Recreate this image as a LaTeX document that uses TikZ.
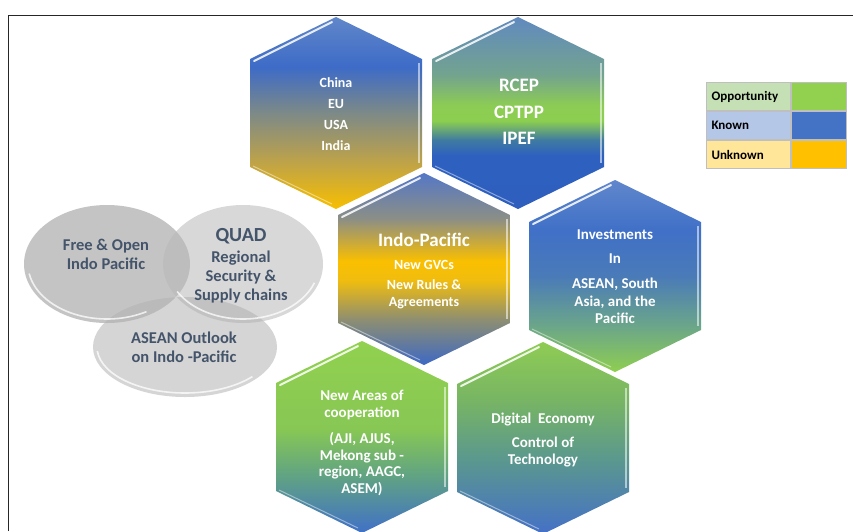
\documentclass[tikz,border=0pt]{standalone}
\usepackage{fontspec}
\setmainfont{Carlito}
\usetikzlibrary{positioning}

\definecolor{opgreen}{HTML}{92D050}
\definecolor{knblue}{HTML}{4472C4}
\definecolor{unyellow}{HTML}{FFC000}
\definecolor{slate}{HTML}{44546A}
\definecolor{opgreenl}{HTML}{C5E0B4}
\definecolor{knbluel}{HTML}{B4C7E7}
\definecolor{unyellowl}{HTML}{FFE699}

% vertical blends, bottom (25bp) to top (75bp)
\pgfdeclareverticalshading{bluetogold}{100bp}{rgb(0bp)=(0.97,0.75,0); rgb(25bp)=(0.97,0.75,0);
  rgb(37bp)=(0.75,0.64,0.28); rgb(50bp)=(0.49,0.54,0.53); rgb(62bp)=(0.24,0.42,0.78);
  rgb(75bp)=(0.38,0.53,0.79); rgb(100bp)=(0.38,0.53,0.79)}
\pgfdeclareverticalshading{greenband}{100bp}{rgb(0bp)=(0.18,0.37,0.75); rgb(25bp)=(0.18,0.37,0.75);
  rgb(39bp)=(0.18,0.38,0.75); rgb(43bp)=(0.25,0.48,0.63); rgb(48bp)=(0.55,0.81,0.31);
  rgb(52bp)=(0.55,0.80,0.33); rgb(60bp)=(0.45,0.64,0.56); rgb(75bp)=(0.38,0.54,0.75);
  rgb(100bp)=(0.38,0.54,0.75)}
\pgfdeclareverticalshading{goldband}{100bp}{rgb(0bp)=(0.24,0.41,0.77); rgb(25bp)=(0.24,0.41,0.77);
  rgb(37bp)=(0.56,0.56,0.44); rgb(47bp)=(0.94,0.74,0.06); rgb(52bp)=(0.98,0.75,0);
  rgb(63bp)=(0.55,0.56,0.52); rgb(75bp)=(0.33,0.47,0.78); rgb(100bp)=(0.33,0.47,0.78)}
\pgfdeclareverticalshading{bluetogreen}{100bp}{rgb(0bp)=(0.56,0.81,0.31); rgb(25bp)=(0.56,0.81,0.31);
  rgb(37bp)=(0.42,0.65,0.54); rgb(50bp)=(0.29,0.48,0.72); rgb(62bp)=(0.25,0.44,0.78);
  rgb(75bp)=(0.38,0.53,0.80); rgb(100bp)=(0.38,0.53,0.80)}
\pgfdeclareverticalshading{greentoblue}{100bp}{rgb(0bp)=(0.25,0.44,0.78); rgb(25bp)=(0.25,0.44,0.78);
  rgb(40bp)=(0.38,0.64,0.51); rgb(52bp)=(0.53,0.78,0.33); rgb(75bp)=(0.57,0.82,0.31);
  rgb(100bp)=(0.57,0.82,0.31)}
\pgfdeclareverticalshading{tealtoblue}{100bp}{rgb(0bp)=(0.27,0.44,0.78); rgb(25bp)=(0.27,0.44,0.78);
  rgb(45bp)=(0.36,0.60,0.55); rgb(60bp)=(0.47,0.71,0.39); rgb(75bp)=(0.56,0.80,0.33);
  rgb(100bp)=(0.56,0.80,0.33)}

% pointy-top cell: centre x, centre y, shading
\newcommand{\hexcell}[3]{%
  \shade[shading=#3] (#1,#2-96) -- (#1+86,#2-54) -- (#1+86,#2+54) -- (#1,#2+96)
    -- (#1-86,#2+54) -- (#1-86,#2-54) -- cycle;
  \draw[white, line width=2pt, line cap=round, opacity=.85] (#1-82,#2-52) -- (#1-4,#2-91);
  \draw[white, line width=1.4pt, opacity=.55] (#1+83,#2-50) -- (#1+83,#2+50);
  \draw[white, line width=1pt, opacity=.45] (#1-83,#2+53) -- (#1-4,#2+91);
}

\tikzset{
  hexlabel/.style={text=white, align=center, inner sep=0pt,
    font=\bfseries\fontsize{15}{17.5}\selectfont},
  blobtext/.style={text=slate, align=center, inner sep=0pt,
    font=\bfseries\fontsize{16.5}{19}\selectfont},
  blob/.style={fill opacity=.55, draw=none},
  rim/.style={white, line width=1.6pt, opacity=.75},
  keylabel/.style={draw=black!25, line width=1pt, text width=74pt, align=left,
    inner xsep=5pt, minimum height=28pt, font=\bfseries\fontsize{13}{15}\selectfont},
  keyswatch/.style={draw=black!25, line width=1pt, minimum width=55pt, minimum height=28pt}
}

\begin{document}
\begin{tikzpicture}[x=1pt,y=-1pt]
  \useasboundingbox (0,0) rectangle (853,531);

  % the three overlapping initiatives
  \fill[blob, black!42] (107,264) ellipse (83 and 59);
  \fill[blob, black!28] (243,264) ellipse (80 and 59);
  \fill[blob, black!30] (185,347) ellipse (92 and 50);
  \draw[rim] (107,264) ++(170:79 and 55) arc[start angle=170, end angle=60, x radius=79, y radius=55];
  \draw[rim] (243,264) ++(150:76 and 55) arc[start angle=150, end angle=20, x radius=76, y radius=55];
  \draw[rim] (185,347) ++(175:88 and 46) arc[start angle=175, end angle=40, x radius=88, y radius=46];

  \node[blobtext] (fopen) at (106,254) {Free \& Open\\Indo Pacific};
  \node[blobtext] (quad) at (241,266) {{\fontsize{20}{22}\selectfont QUAD}\\[2pt]Regional\\Security \&\\Supply chains};
  \node[blobtext] (aoip) at (184,347) {ASEAN Outlook\\on Indo -Pacific};

  % honeycomb
  \hexcell{336}{113}{bluetogold}
  \hexcell{518}{113}{greenband}
  \hexcell{424}{269}{goldband}
  \hexcell{615}{276}{bluetogreen}
  \hexcell{362}{437}{greentoblue}
  \hexcell{543}{438}{tealtoblue}

  \node[hexlabel, font=\bfseries\fontsize{14}{21}\selectfont] (powers) at (336,114) {China\\EU\\USA\\India};
  \node[hexlabel, font=\bfseries\fontsize{19}{26.5}\selectfont] (deals) at (519,112) {RCEP\\CPTPP\\IPEF};
  \node[hexlabel, font=\bfseries\fontsize{14}{16.5}\selectfont] (indopac) at (424,271)
    {{\fontsize{19}{20}\selectfont Indo-Pacific}\\[6pt]New GVCs\\[4pt]New Rules \&\\Agreements};
  \node[hexlabel] (invest) at (615,277) {Investments\\[6pt]In\\[8pt]ASEAN, South\\Asia, and the\\Pacific};
  \node[hexlabel, font=\bfseries\fontsize{15}{16.5}\selectfont] (newareas) at (362,443)
    {New Areas of\\cooperation\\[10pt](AJI, AJUS,\\Mekong sub -\\region, AAGC,\\ASEM)};
  \node[hexlabel] (digital) at (543,440) {Digital\ \ Economy\\[6pt]Control of\\Technology};

  % key
  \node[keylabel, fill=opgreenl, anchor=north west] (kopp) at (706,82) {Opportunity};
  \node[keyswatch, fill=opgreen, right=0pt of kopp] (sopp) {};
  \node[keylabel, fill=knbluel, below=0pt of kopp] (kknown) {Known};
  \node[keyswatch, fill=knblue, right=0pt of kknown] (sknown) {};
  \node[keylabel, fill=unyellowl, below=0pt of kknown] (kunknown) {Unknown};
  \node[keyswatch, fill=unyellow, right=0pt of kunknown] (sunknown) {};

  % frame
  \draw[black!85, line width=1pt] (8,531) -- (8,15) -- (853,15);
\end{tikzpicture}
\end{document}
